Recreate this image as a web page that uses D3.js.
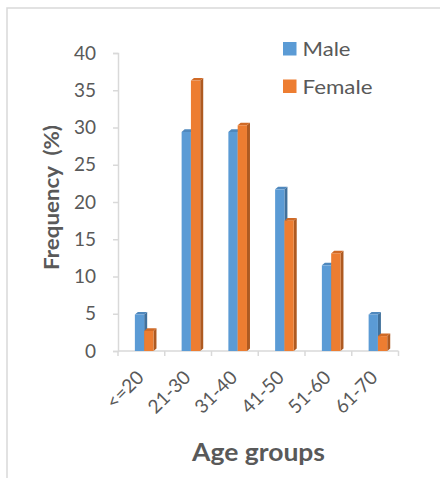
<!DOCTYPE html>
<html>
<head>
<meta charset="utf-8">
<script src="https://cdn.jsdelivr.net/npm/d3@7"></script>
<style>
  html, body { margin: 0; padding: 0; background: #fff; }
  svg { display: block; }
  text { font-family: Lato, "Open Sans", sans-serif; fill: #595959; }
</style>
</head>
<body>
<script>
// Age distribution by sex, in percent
const ageGroups = ["<=20", "21-30", "31-40", "41-50", "51-60", "61-70"];
const male = [4.9, 29.4, 29.4, 21.7, 11.5, 4.9];
const female = [2.7, 36.3, 30.3, 17.5, 13.1, 2.0];
const yTicks = [0, 5, 10, 15, 20, 25, 30, 35, 40];
const seriesNames = ["Male", "Female"];

const W = 440, H = 478;
const svg = d3.select("body").append("svg").attr("width", W).attr("height", H);

// outer frame
svg.append("path")
  .attr("d", `M7,${H} L7,8 L${W},8`)
  .attr("fill", "none").attr("stroke", "#d9d9d9").attr("stroke-width", 1.5);

const plot = { left: 118, right: 398.5, top: 53, bottom: 351 };

const x = d3.scaleBand().domain(ageGroups).range([plot.left, plot.right]).padding(0);
const y = d3.scaleLinear().domain([0, 40]).range([plot.bottom, plot.top]);

const series = [
  { name: seriesNames[0], values: male, front: "#5b9bd5", side: "#41719c", top: "#4f88bd", len: 48 },
  { name: seriesNames[1], values: female, front: "#ed7d31", side: "#ae5a21", top: "#d06a26", len: 70 }
];

// y axis
const yAxis = svg.append("g")
  .attr("transform", `translate(${plot.left},0)`)
  .call(d3.axisLeft(y).tickValues(yTicks).tickSize(5).tickPadding(17));
yAxis.select(".domain").attr("stroke", "#d9d9d9").attr("stroke-width", 1.5);
yAxis.selectAll(".tick line").attr("stroke", "#d9d9d9").attr("stroke-width", 1.5);
yAxis.selectAll(".tick text").style("font-size", "19px").style("fill", "#595959")
  .style("font-family", "Lato, sans-serif");

// x axis line with ticks on category boundaries
const xAxis = svg.append("g").attr("transform", `translate(0,${plot.bottom})`);
xAxis.append("line")
  .attr("x1", plot.left).attr("x2", plot.right)
  .attr("stroke", "#d9d9d9").attr("stroke-width", 1.5);
const bounds = ageGroups.map(g => x(g)).concat([x(ageGroups[ageGroups.length - 1]) + x.bandwidth()]);
xAxis.selectAll("line.tk").data(bounds).join("line")
  .attr("class", "tk")
  .attr("x1", d => d).attr("x2", d => d)
  .attr("y1", 0).attr("y2", 5)
  .attr("stroke", "#d9d9d9").attr("stroke-width", 1.5);
xAxis.selectAll("text.lbl").data(ageGroups).join("text")
  .attr("class", "lbl")
  .attr("transform", d => `translate(${x(d) + x.bandwidth() / 2 - 1},${23}) rotate(-45)`)
  .attr("text-anchor", "end")
  .attr("dy", "0.35em")
  .style("font-size", "19px")
  .text(d => d);

// 3-D style columns
const barW = 9.3, dx = 3, dy = 2.6;
const y0 = y(0);
series.forEach((s, si) => {
  const g = svg.append("g");
  s.values.forEach((v, i) => {
    const bx = x(ageGroups[i]) + x.bandwidth() / 2 - 6.5 + si * barW;
    const by = y(v);
    // side face
    g.append("path")
      .attr("d", `M${bx + barW},${by} L${bx + barW + dx},${by - dy} L${bx + barW + dx},${y0 - dy} L${bx + barW},${y0} Z`)
      .attr("fill", s.side);
    // top face
    g.append("path")
      .attr("d", `M${bx},${by} L${bx + dx},${by - dy} L${bx + barW + dx},${by - dy} L${bx + barW},${by} Z`)
      .attr("fill", s.top);
    // front face
    g.append("rect")
      .attr("x", bx).attr("y", by)
      .attr("width", barW).attr("height", y0 - by)
      .attr("fill", s.front);
  });
});

// legend
const legend = svg.append("g");
series.forEach((s, i) => {
  const ly = 49 + i * 37.5;
  legend.append("rect")
    .attr("x", 283).attr("y", ly - 7).attr("width", 13.5).attr("height", 13.5)
    .attr("fill", s.front);
  legend.append("text")
    .attr("x", 302.5).attr("y", ly).attr("dy", "0.35em")
    .attr("textLength", s.len).attr("lengthAdjust", "spacingAndGlyphs")
    .style("font-size", "20px")
    .text(s.name);
});

// axis titles (start-anchored so the fitted length runs from a fixed edge)
svg.append("text")
  .attr("transform", `translate(52,270) rotate(-90)`)
  .attr("text-anchor", "start").attr("dy", "0.35em")
  .attr("textLength", 145).attr("lengthAdjust", "spacingAndGlyphs")
  .style("font-size", "20px").style("font-weight", "bold")
  .text("Frequency\u00a0 (%)");

svg.append("text")
  .attr("x", 192).attr("y", 461)
  .attr("text-anchor", "start")
  .attr("textLength", 133).attr("lengthAdjust", "spacingAndGlyphs")
  .style("font-size", "24px").style("font-weight", "bold")
  .text("Age groups");
</script>
</body>
</html>
